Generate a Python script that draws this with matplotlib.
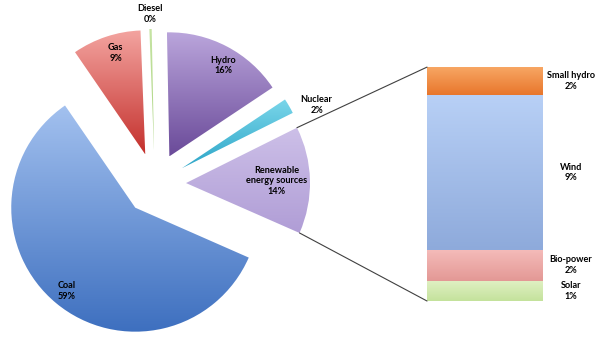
import numpy as np
import matplotlib
matplotlib.use("Agg")
import matplotlib.pyplot as plt
from matplotlib.colors import LinearSegmentedColormap
from matplotlib.patches import ConnectionPatch

# pie data (counter-clockwise from Coal)
pie_labels = ["Coal", "Renewable\nenergy sources", "Nuclear", "Hydro", "Diesel", "Gas"]
pie_values = [59, 14, 2, 16, 0.3, 9]
pie_text = ["59%", "14%", "2%", "16%", "0%", "9%"]

# breakdown of renewables (bottom to top)
bar_labels = ["Solar", "Bio-power", "Wind", "Small hydro"]
bar_values = [1.2, 1.9, 9.3, 1.7]

pie_colors = [("#a3c1ef", "#3d6fbf"), ("#cdc0e8", "#b09dd6"), ("#7ad6ea", "#2ea6c8"),
              ("#bba6dc", "#6a4a99"), ("#c6e4a4", "#a8d27c"), ("#f3a4a0", "#c4302c")]
bar_colors = [("#dff0c2", "#c4e29c"), ("#f5bcba", "#e39895"), ("#b8d0f6", "#8eaadb"),
              ("#f8a865", "#e8762c")]

plt.rcParams["font.family"] = ["Lato", "DejaVu Sans"]
FS = 6.6


def fill_gradient(ax, patch, extent, top, bottom):
    cmap = LinearSegmentedColormap.from_list("g", [top, bottom])
    grad = np.linspace(0, 1, 256).reshape(-1, 1)
    im = ax.imshow(grad, cmap=cmap, extent=extent, origin="upper",
                   aspect="auto", interpolation="bilinear", zorder=2)
    im.set_clip_path(patch)
    patch.set_facecolor("none")


fig = plt.figure(figsize=(6, 3.45), dpi=100)
ax = fig.add_axes([-0.0103, 0.0, 0.5373, 0.9345])
wedges, _ = ax.pie(pie_values, explode=[0.25] * len(pie_values), startangle=124.5,
                   counterclock=True, radius=1, wedgeprops=dict(linewidth=0))

# label placement: radial distance from wedge centre, angle tweak
label_pos = [(0.87, 0), (0.73, 0), (1.2, -5), (0.85, -3), (1.12, 0), (0.85, -2)]

for w, (top, bot), lab, txt, (rd, da) in zip(wedges, pie_colors, pie_labels, pie_text, label_pos):
    v = w.get_path().vertices
    fill_gradient(ax, w, [v[:, 0].min(), v[:, 0].max(), v[:, 1].min(), v[:, 1].max()], top, bot)
    mid = np.deg2rad((w.theta1 + w.theta2) / 2 + da)
    cx, cy = w.center
    ax.text(cx + rd * np.cos(mid), cy + rd * np.sin(mid), lab + "\n" + txt,
            ha="center", va="center", fontsize=FS, fontweight="bold",
            linespacing=1.25, zorder=5)

ax.set_xlim(-1.3, 1.3)
ax.set_ylim(-1.3, 1.3)
ax.set_aspect("equal")
ax.axis("off")

# stacked bar of renewables
axb = fig.add_axes([0.7117, 0.1275, 0.1933, 0.678])
total = sum(bar_values)
bottom = 0
for val, (top, bot), lab in zip(bar_values, bar_colors, bar_labels):
    rect = axb.bar(0, val, bottom=bottom, width=1, linewidth=0)[0]
    fill_gradient(axb, rect, [-0.5, 0.5, bottom, bottom + val], top, bot)
    axb.text(1.24, bottom + val / 2, f"{lab}\n{val:.0f}%", ha="center", va="center",
             fontsize=FS, fontweight="bold", linespacing=1.25,
             transform=axb.get_yaxis_transform())
    bottom += val
axb.set_xlim(-0.5, 0.5)
axb.set_ylim(0, total)
axb.axis("off")

# connector lines from renewable wedge to bar
ren = wedges[1]
for ang, yb in [(ren.theta2, total), (ren.theta1, 0)]:
    a = np.deg2rad(ang)
    p = (ren.center[0] + ren.r * np.cos(a), ren.center[1] + ren.r * np.sin(a))
    con = ConnectionPatch(xyA=p, coordsA=ax.transData, xyB=(-0.5, yb), coordsB=axb.transData,
                          color="#404040", linewidth=0.8)
    fig.add_artist(con)

fig.savefig("out.png", dpi=100, facecolor="white")
